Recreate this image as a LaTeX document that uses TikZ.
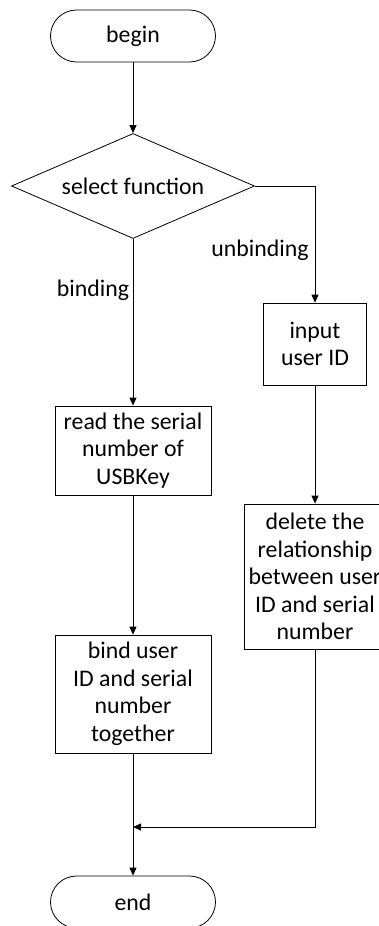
\documentclass[tikz,border=0pt]{standalone}
\usepackage{fontspec}
\setmainfont{Carlito}
\usetikzlibrary{shapes.geometric,arrows.meta}
\begin{document}
\begin{tikzpicture}[x=1pt,y=-1pt,
  every node/.style={font=\fontsize{23.8}{27.5}\selectfont, align=center, inner sep=0pt},
  term/.style={draw, rectangle, rounded corners=26pt, minimum width=165pt, minimum height=52pt},
  proc/.style={draw, rectangle},
  decide/.style={draw, diamond, minimum width=243pt, minimum height=105pt, aspect=2.3},
  flow/.style={-{Triangle[length=8pt,width=7pt]}},
  line width=0.8pt]
\useasboundingbox (0,0) rectangle (379,926);
\node[term] (begin) at (133,36) {begin};
\node[decide] (dia) at (133,186) {select function};
\node[proc, minimum width=103pt, minimum height=82pt] (input) at (315,344) {input\\user ID};
\node[proc, minimum width=156pt, minimum height=89pt] (read) at (133,450.5) {read the serial\\number of\\USBKey};
\node[proc, minimum width=142pt, minimum height=145pt] (del) at (315,576.5) {delete the\\relationship\\between user\\ID and serial\\number};
\node[proc, minimum width=156pt, minimum height=118pt] (bind) at (133,694) {bind user\\ID and serial\\number\\together};
\node[term] (end) at (133,902) {end};
\node (lunb) at (260,250) {unbinding};
\node (lbind) at (93,290) {binding};
\coordinate (merge) at (133,827);
\draw[flow] (begin.south) -- (dia.north);
\draw[flow] (dia.east) -| (input.north);
\draw[flow] (dia.south) -- (read.north);
\draw[flow] (input.south) -- (del.north);
\draw[flow] (read.south) -- (bind.north);
\draw[flow] (bind.south) -- (end.north);
\draw[flow] (del.south) |- (merge);
\end{tikzpicture}
\end{document}
